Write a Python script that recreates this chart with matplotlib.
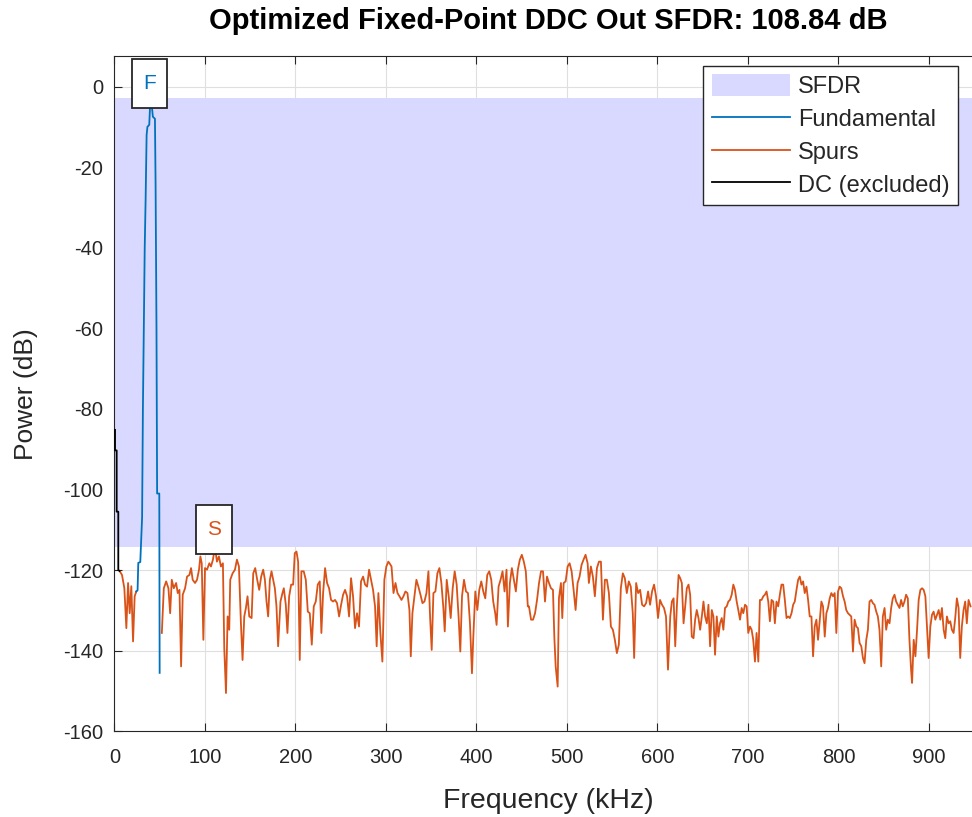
import numpy as np
import matplotlib
matplotlib.use("Agg")
import matplotlib.pyplot as plt

plt.rcParams['font.family'] = ['Liberation Sans', 'DejaVu Sans']
plt.rcParams['axes.unicode_minus'] = False

# ---------------- data (kHz, dB) ----------------
title_text = "Optimized Fixed-Point DDC Out SFDR: 108.84 dB"
x_ticks = [0, 100, 200, 300, 400, 500, 600, 700, 800, 900]
y_ticks = [0, -20, -40, -60, -80, -100, -120, -140, -160]

dc_freq = [0.7, 0.7, 2.5, 2.5, 4.3, 4.3, 5.7]
dc_db = [-85.2, -90.3, -90.3, -105.5, -105.5, -120.0, -120.2]

fund_freq = [24.2, 25.6, 26.4, 28.6, 30.6, 31.5, 33.5, 34.5, 35.6, 36.5, 38.5,
             39.8, 41.0, 42.5, 44.8, 45.5, 46.5, 47.2, 49.6, 50.0]
fund_db = [-125.3, -125.0, -118.2, -118.0, -107.0, -80.0, -40.0, -28.0, -12.0,
           -10.0, -9.5, -2.9, -4.0, -7.5, -8.0, -24.0, -60.0, -101.0, -101.0,
           -145.5]

spur_lo_freq = [5.7, 8.4, 11.0, 13.2, 15.1, 16.9, 18.7, 20.6, 22.4, 24.2]
spur_lo_db = [-120.2, -121.2, -124.5, -134.4, -123.2, -130.7, -124.0, -137.7,
              -126.5, -125.3]

spur_hi_freq = [
    52.4, 54.6, 57.2, 59.7, 61.6, 63.4, 65.6, 68.2, 70.0, 71.9, 73.7, 75.5, 78.1,
    80.3, 82.9, 84.7, 86.5, 89.1, 91.3, 93.5, 95.0, 96.5, 98.3, 100.1, 102.3,
    104.9, 106.7, 108.9, 111.1, 113.3, 115.5, 117.7, 119.9, 121.4, 123.3, 125.1,
    126.9, 128.0, 130.6, 133.2, 135.4, 137.6, 139.8, 141.6, 143.5, 145.3, 147.1,
    149.0, 151.6, 153.4, 155.6, 157.8, 160.0, 162.2, 164.4, 166.3, 168.1, 169.9,
    171.8, 173.6, 175.4, 177.3, 179.1, 180.9, 183.5, 185.7, 187.2, 189.4, 191.2,
    193.1, 195.3, 197.5, 199.3, 201.2, 203.0, 204.8, 206.6, 209.2, 211.5, 213.7,
    215.9, 218.1, 220.3, 222.5, 224.7, 226.9, 228.7, 230.6, 232.8, 235.0, 237.2,
    239.4, 241.6, 243.8, 246.0, 248.3, 250.5, 252.7, 254.9, 257.1, 259.3, 261.5,
    263.7, 265.9, 268.1, 270.3, 272.5, 274.8, 277.0, 279.2, 281.4, 283.6, 285.8,
    288.0, 289.8, 291.7, 293.9, 296.1, 298.3, 300.5, 302.7, 304.0, 306.2, 308.4,
    310.6, 312.8, 315.0, 317.2, 319.4, 321.6, 323.8, 326.0, 327.5, 329.3, 331.5,
    333.7, 335.9, 338.2, 340.4, 342.6, 344.8, 347.0, 348.8, 350.6, 352.5, 354.7,
    356.9, 359.1, 361.3, 363.5, 365.0, 367.2, 369.4, 371.6, 373.8, 376.0, 378.2,
    380.4, 382.2, 384.1, 386.3, 388.5, 390.7, 392.9, 395.1, 396.6, 398.8, 401.0,
    403.2, 405.4, 407.6, 409.8, 412.0, 414.2, 416.4, 418.6, 420.8, 422.3, 424.5,
    426.7, 428.9, 431.1, 433.3, 434.8, 437.0, 439.2, 441.4, 443.6, 445.8, 448.0,
    450.2, 452.4, 454.6, 456.8, 458.1, 460.4, 462.6, 464.8, 467.0, 469.2, 471.4,
    473.6, 475.8, 478.0, 480.2, 482.4, 484.6, 486.1, 487.6, 489.8, 491.2, 493.4,
    494.9, 496.4, 498.6, 500.8, 503.0, 505.2, 507.4, 509.6, 511.8, 514.0, 516.2,
    518.4, 520.6, 522.9, 524.3, 526.5, 528.7, 530.9, 533.2, 535.4, 537.6, 539.8,
    542.0, 544.2, 546.4, 548.6, 550.8, 553.0, 555.2, 557.4, 559.6, 561.8, 564.0,
    566.2, 568.4, 570.6, 572.8, 574.3, 576.5, 578.7, 580.9, 583.1, 585.3, 587.5,
    589.7, 591.9, 594.1, 596.3, 598.5, 600.7, 602.9, 605.1, 607.3, 609.5, 611.7,
    614.2, 616.0, 617.9, 619.7, 621.5, 623.4, 625.2, 627.0, 628.9, 630.7, 632.5,
    634.4, 636.2, 638.0, 639.9, 641.7, 643.5, 645.4, 647.2, 649.1, 650.9, 652.7,
    654.6, 656.4, 658.2, 660.1, 661.9, 663.7, 665.6, 667.4, 669.2, 671.1, 672.9,
    674.7, 676.6, 678.4, 680.2, 682.1, 683.9, 685.7, 687.6, 689.4, 691.3, 693.1,
    694.9, 696.8, 698.6, 700.4, 702.3, 704.1, 705.9, 707.8, 709.6, 711.5, 713.3,
    715.1, 717.0, 718.8, 720.6, 722.5, 724.3, 726.1, 728.0, 729.8, 731.6, 733.5,
    735.3, 737.1, 739.0, 740.8, 742.7, 744.5, 746.3, 748.2, 750.0, 751.8, 753.7,
    755.5, 757.3, 759.2, 761.0, 762.8, 764.7, 766.5, 768.3, 770.2, 772.0, 773.8,
    775.7, 777.5, 779.4, 781.2, 783.0, 784.9, 786.7, 788.5, 790.4, 792.2, 794.1,
    795.9, 797.7, 799.6, 801.4, 803.2, 805.1, 806.9, 808.7, 810.6, 812.4, 814.2,
    816.1, 817.9, 819.8, 821.6, 823.4, 825.3, 827.1, 828.9, 830.8, 832.6, 834.4,
    836.3, 838.1, 839.9, 841.8, 843.6, 845.4, 847.3, 849.1, 851.0, 852.8, 854.6,
    856.5, 858.3, 860.1, 862.0, 863.8, 865.6, 867.5, 869.3, 871.1, 873.0, 874.8,
    876.7, 878.5, 880.3, 881.4, 883.2, 885.1, 886.9, 888.7, 890.6, 892.4, 894.2,
    896.1, 897.9, 899.7, 901.6, 903.4, 905.2, 907.1, 908.9, 910.8, 912.6, 914.4,
    916.3, 918.1, 919.9, 921.8, 923.6, 925.4, 927.3, 929.1, 930.9, 932.8, 934.6,
    936.4, 938.3, 940.1, 941.9, 943.8, 946.0]
spur_hi_db = [
    -135.6, -124.5, -122.8, -124.5, -130.7, -122.4, -124.5, -123.2, -125.7, -124.9,
    -143.9, -126.1, -124.5, -121.6, -121.2, -119.5, -122.4, -123.2, -122.4, -119.9,
    -116.6, -118.3, -137.3, -119.5, -119.9, -118.3, -119.1, -117.4, -114.2, -117.9,
    -116.6, -119.1, -118.3, -139.4, -150.5, -131.5, -134.8, -122.4, -120.8, -119.9,
    -117.4, -119.1, -133.2, -142.3, -131.5, -129.4, -126.5, -131.5, -131.9, -120.8,
    -119.5, -122.4, -124.9, -121.6, -119.9, -122.4, -127.8, -131.5, -122.4, -120.3,
    -122.4, -124.5, -129.0, -138.9, -127.8, -125.7, -124.5, -128.6, -135.6, -126.5,
    -123.6, -123.6, -115.8, -115.4, -117.9, -142.3, -120.3, -120.3, -122.4, -130.3,
    -130.7, -138.5, -129.0, -127.8, -123.6, -122.8, -135.6, -125.7, -119.5, -123.2,
    -124.5, -127.4, -127.8, -127.4, -128.2, -131.5, -128.6, -126.1, -124.9, -126.5,
    -131.5, -122.0, -126.5, -134.4, -130.7, -134.0, -122.8, -121.6, -123.6, -124.1,
    -119.9, -122.4, -124.9, -129.0, -138.9, -125.7, -135.6, -142.7, -122.4, -119.1,
    -117.9, -118.3, -119.1, -125.7, -123.2, -125.7, -126.5, -127.4, -126.5, -125.3,
    -125.7, -129.9, -141.4, -130.7, -126.5, -122.4, -124.1, -126.1, -128.2, -127.8,
    -125.7, -120.3, -131.5, -139.8, -125.7, -125.3, -120.8, -119.5, -123.2, -129.4,
    -135.2, -122.4, -126.5, -131.9, -124.5, -120.3, -123.6, -131.9, -140.2, -126.5,
    -122.4, -125.3, -125.7, -133.2, -145.6, -136.5, -125.3, -129.9, -124.9, -122.8,
    -125.3, -127.0, -121.2, -120.3, -122.4, -127.8, -130.7, -133.6, -124.1, -122.4,
    -120.3, -125.3, -119.9, -134.0, -123.2, -119.5, -122.4, -125.3, -119.9, -117.4,
    -116.2, -117.9, -120.3, -129.0, -129.0, -132.3, -132.3, -130.7, -127.4, -123.2,
    -120.3, -120.3, -127.8, -121.6, -123.2, -124.5, -124.9, -136.5, -143.9, -148.9,
    -127.0, -123.2, -131.9, -123.2, -122.8, -119.1, -118.3, -120.3, -124.9, -129.9,
    -123.2, -121.6, -118.7, -117.4, -116.2, -118.3, -123.2, -119.1, -121.6, -126.5,
    -119.5, -117.9, -117.9, -132.3, -122.4, -122.4, -125.7, -134.0, -134.8, -137.3,
    -140.6, -138.5, -124.5, -120.8, -122.0, -125.7, -122.8, -124.1, -130.7, -141.8,
    -123.2, -125.7, -124.9, -128.6, -129.0, -128.2, -125.3, -128.6, -125.3, -123.6,
    -126.5, -131.9, -127.4, -128.6, -129.4, -131.5, -144.7, -131.5, -127.8, -127.0,
    -138.9, -129.0, -121.2, -122.0, -123.2, -133.2, -129.0, -124.5, -123.6, -126.1,
    -136.5, -136.9, -132.3, -129.9, -131.9, -134.8, -131.5, -127.8, -131.5, -133.2,
    -128.6, -138.9, -129.9, -131.5, -141.0, -131.5, -136.5, -133.2, -131.9, -134.8,
    -129.4, -129.0, -127.8, -127.4, -126.1, -123.6, -124.9, -127.8, -129.9, -132.3,
    -129.4, -130.7, -128.6, -129.0, -135.6, -134.0, -134.8, -137.3, -142.7, -135.6,
    -142.7, -127.4, -127.4, -126.5, -126.1, -125.3, -127.8, -132.7, -127.4, -127.8,
    -133.2, -127.8, -129.0, -126.1, -123.6, -123.6, -127.4, -131.9, -131.5, -131.9,
    -130.7, -128.6, -127.8, -124.9, -122.4, -121.6, -123.6, -122.8, -125.7, -124.1,
    -127.4, -131.5, -131.5, -141.4, -134.0, -132.3, -137.3, -132.3, -127.8, -129.0,
    -136.5, -130.7, -129.4, -127.0, -125.7, -126.5, -125.7, -135.6, -125.3, -124.1,
    -124.5, -126.5, -127.8, -129.9, -130.7, -131.1, -131.5, -140.2, -132.3, -134.0,
    -134.4, -138.1, -138.9, -141.8, -143.1, -137.3, -134.8, -127.8, -127.4, -128.2,
    -128.6, -130.3, -131.5, -134.8, -143.9, -131.5, -129.4, -134.8, -132.3, -133.2,
    -129.4, -127.0, -126.1, -127.8, -128.6, -129.4, -127.4, -129.0, -127.8, -126.1,
    -127.0, -137.3, -144.7, -148.0, -137.3, -141.4, -134.8, -127.4, -124.9, -124.5,
    -124.9, -126.5, -134.4, -141.8, -134.0, -131.1, -130.3, -132.3, -131.1, -129.9,
    -132.3, -129.4, -134.8, -136.9, -131.5, -133.2, -132.7, -134.8, -135.6, -131.9,
    -127.0, -129.4, -141.8, -134.0, -129.9, -127.8, -133.2, -127.4, -129.0]

# ---------------- styling ----------------
c_fund = '#0072BD'
c_spur = '#D95319'
c_dc = '#000000'
c_sfdr = '#D9D9FF'
c_axis = '#262626'

fig = plt.figure(figsize=(9.72, 8.17), dpi=100)
W, H = 972.0, 817.0
ax_l, ax_r, ax_b, ax_t = 114.4, 983.2, 731.3, 56.3
ax = fig.add_axes([ax_l / W, 1 - ax_b / H, (ax_r - ax_l) / W, (ax_b - ax_t) / H])

fund_peak = max(fund_db)
spur_peak = max(spur_hi_db + spur_lo_db)
fund_peak_f = fund_freq[fund_db.index(fund_peak)]
spur_peak_f = spur_hi_freq[spur_hi_db.index(spur_peak)]

lw = 1.3
ax.axhspan(spur_peak, fund_peak, color=c_sfdr, lw=0, zorder=1, label='SFDR')
ax.plot(fund_freq, fund_db, color=c_fund, lw=lw, zorder=4, label='Fundamental')
ax.plot(spur_lo_freq, spur_lo_db, color=c_spur, lw=lw, zorder=3, label='Spurs')
ax.plot(spur_hi_freq, spur_hi_db, color=c_spur, lw=lw, zorder=3)
ax.plot(dc_freq, dc_db, color=c_dc, lw=lw, zorder=3, label='DC (excluded)')

ax.set_xlim(0, 960)
ax.set_ylim(-160, 7.5)
ax.set_xticks(x_ticks)
ax.set_yticks(y_ticks)
ax.set_axisbelow(True)
ax.grid(True, color='#dfdfdf', lw=0.8)
for s in ax.spines.values():
    s.set_color(c_axis)
    s.set_linewidth(0.8)
ax.tick_params(direction='in', length=6, width=0.8, color=c_axis,
               labelcolor=c_axis, labelsize=14.5, top=True, right=True)
ax.tick_params(axis='x', pad=12)
ax.tick_params(axis='y', pad=8)

ax.set_title(title_text, fontsize=21, fontweight='bold', color='#000000', pad=20)
ax.set_xlabel('Frequency (kHz)', fontsize=20.5, color=c_axis, labelpad=15)
ax.set_ylabel('Power (dB)', fontsize=19, color=c_axis, labelpad=18)

box = dict(boxstyle='square,pad=0.53', fc='white', ec='#262626', lw=1.3,
           mutation_aspect=1.35)
ax.annotate('F', (fund_peak_f, fund_peak), xytext=(-0.5, 10.5), textcoords='offset points',
            ha='center', va='center', fontsize=15, color=c_fund, bbox=box, zorder=6)
ax.annotate('S', (spur_peak_f, spur_peak), xytext=(-0.5, 12.5), textcoords='offset points',
            ha='center', va='center', fontsize=15, color=c_spur, bbox=box, zorder=6)

leg = ax.legend(loc='upper right', bbox_to_anchor=((958 - ax_l) / (ax_r - ax_l),
                1 - (66 - ax_t) / (ax_b - ax_t)), borderaxespad=0,
                fontsize=17, frameon=True, fancybox=False, framealpha=1,
                edgecolor='#262626', handlelength=3.3, handletextpad=0.34,
                borderpad=0.36, labelspacing=0.39, handleheight=1.0)
leg.get_frame().set_linewidth(1.0)
for t in leg.get_texts():
    t.set_color(c_axis)

fig.savefig('out.png', dpi=100)
